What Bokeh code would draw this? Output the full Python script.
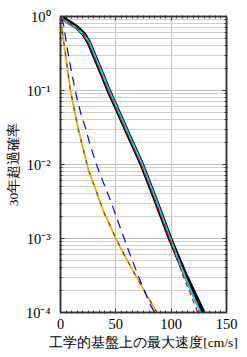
from bokeh.plotting import figure
from bokeh.models import FixedTicker, CustomJSTickFormatter, LinearAxis, LogAxis
from bokeh.embed import file_html
from bokeh.resources import INLINE

# ---- data ----
black_x = [0, 3, 7, 11, 15, 21, 25.5, 30, 37.5, 43.5, 50, 60, 73.5, 86, 99, 106, 113, 121, 129]
black_p = [1.0, 0.93, 0.85, 0.78, 0.71, 0.58, 0.45, 0.31, 0.167, 0.1, 0.061, 0.028, 0.01,
           0.0033, 0.001, 5.6e-4, 3.2e-4, 1.78e-4, 1.0e-4]

cyan_x = [0, 3, 7, 11, 15, 21, 25.8, 30.4, 37.9, 43.9, 50.4, 60.4, 73.9, 86.4, 99.2, 105.5, 112, 119, 126.5]
cyan_p = [1.0, 0.9, 0.82, 0.75, 0.69, 0.57, 0.45, 0.31, 0.167, 0.1, 0.061, 0.028, 0.01,
          0.0033, 0.001, 5.6e-4, 3.2e-4, 1.78e-4, 1.0e-4]

red_x = [0, 3, 7, 11, 15, 21, 25, 29.5, 37, 43, 49.4, 59.4, 72.9, 85.4, 98.6, 105, 110.5, 117.5, 124]
red_p = [0.97, 0.9, 0.83, 0.76, 0.7, 0.57, 0.45, 0.31, 0.167, 0.1, 0.061, 0.028, 0.01,
         0.0033, 0.001, 5.6e-4, 3.2e-4, 1.78e-4, 1.0e-4]

orange_x = [0, 1, 4.3, 9, 16.3, 25.4, 32, 39, 51, 59, 67.7, 77, 87.3]
orange_p = [0.92, 0.75, 0.32, 0.1, 0.029, 0.0083, 0.0045, 0.0023, 0.00093, 0.00055,
            0.00032, 0.00018, 0.0001]

green_x = [0, 1, 4.3, 9, 16.3, 25.4, 32, 39, 51, 59, 67.7, 77, 87.3]
green_p = [0.9, 0.74, 0.32, 0.1, 0.029, 0.0083, 0.0045, 0.0023, 0.00093, 0.00055,
           0.00032, 0.00018, 0.0001]

blue_x = [0.5, 2.7, 5.8, 10.3, 14.8, 19, 22.4, 27, 33, 39, 45, 51, 57, 63, 69, 75, 81, 85]
blue_p = [0.95, 0.79, 0.39, 0.166, 0.079, 0.045, 0.032, 0.0178, 0.0095, 0.0056, 0.0033,
          0.00186, 0.00105, 0.0006, 0.00035, 0.00021, 0.000129, 0.0001]

x_ticks = [0, 50, 100, 150]
x_minor = [5 * i for i in range(31)]
y_ticks = [1e-4, 1e-3, 1e-2, 1e-1, 1.0]
y_minor = [k * 10.0 ** e for e in range(-4, 0) for k in range(2, 10)]

x_label = "工学的基盤上の最大速度[cm/s]"
y_label = "30年超過確率"

SERIF = "Liberation Serif"

p = figure(width=247, height=357, y_axis_type="log",
           x_range=(0, 150), y_range=(1e-4, 1.0),
           output_backend="svg", toolbar_location=None,
           min_border_left=60, min_border_right=21,
           min_border_top=16, min_border_bottom=45)
p.outline_line_color = "#333333"
p.outline_line_width = 1.5
p.background_fill_color = "white"
p.border_fill_color = "white"

# grids
p.xgrid.ticker = FixedTicker(ticks=x_ticks)
p.xgrid.grid_line_color = "#c0c0c0"
p.ygrid.grid_line_color = "#c0c0c0"
p.ygrid.minor_grid_line_color = "#cfcfcf"

sup_fmt = CustomJSTickFormatter(code="""
const sup = {'0':'\u2070','1':'\u00b9','2':'\u00b2','3':'\u00b3','4':'\u2074','-':'\u207b'};
const e = Math.round(Math.log10(tick));
return '10' + String(e).split('').map(c => sup[c]).join('');
""")
empty_fmt = CustomJSTickFormatter(code="return '';")

xt = FixedTicker(ticks=x_ticks, minor_ticks=x_minor)
yt = FixedTicker(ticks=y_ticks, minor_ticks=y_minor)

def style(ax):
    ax.axis_line_color = "#333333"
    ax.axis_line_width = 1.5
    ax.major_tick_in = 4
    ax.major_tick_out = 0
    ax.minor_tick_in = 2
    ax.minor_tick_out = 1
    ax.major_tick_line_color = "#333333"
    ax.minor_tick_line_color = "#333333"
    ax.major_label_text_font = SERIF
    ax.major_label_text_font_size = "14.5px"
    ax.major_label_text_color = "black"
    ax.axis_label_text_font = SERIF
    ax.axis_label_text_font_size = "13.5px"
    ax.axis_label_text_font_style = "normal"
    ax.axis_label_text_color = "black"

xa = p.xaxis[0]
xa.ticker = xt
style(xa)
xa.major_label_standoff = 5
xa.axis_label = x_label
xa.axis_label_standoff = 3

ya = p.yaxis[0]
ya.ticker = yt
ya.formatter = sup_fmt
style(ya)
ya.major_label_standoff = 9
ya.axis_label = y_label
ya.axis_label_standoff = 2

top = LinearAxis(ticker=xt, formatter=empty_fmt)
style(top)
top.major_label_standoff = 0
p.add_layout(top, "above")

right = LogAxis(ticker=yt, formatter=empty_fmt)
style(right)
right.major_label_standoff = 0
p.add_layout(right, "right")

# curves
p.line(orange_x, orange_p, line_color="orange", line_width=1.8)
p.line(green_x, green_p, line_color="#2f6a2f", line_width=1.2, line_dash="4 7")
p.line(blue_x, blue_p, line_color="blue", line_width=1.2, line_dash="9 6")
p.line(black_x, black_p, line_color="black", line_width=4.5)
p.line(cyan_x, cyan_p, line_color="#1ec8e6", line_width=2)
p.line(red_x, red_p, line_color="red", line_width=1.2, line_dash="5 4")

open("out.html", "w").write(file_html(p, INLINE))
